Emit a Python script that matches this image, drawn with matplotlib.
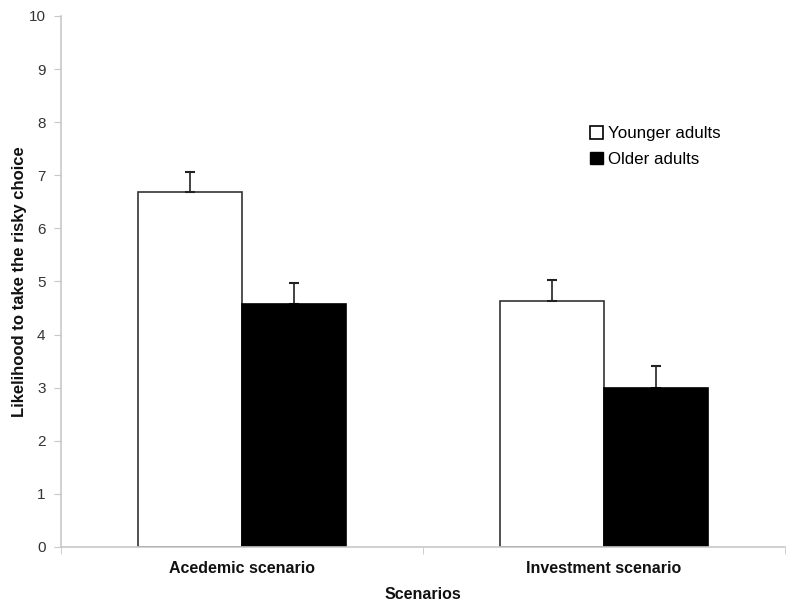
import numpy as np
import matplotlib.pyplot as plt
from matplotlib.patches import Patch

plt.rcParams['font.family'] = ['Liberation Sans', 'DejaVu Sans']

# data
SCENARIOS = ['Acedemic scenario', 'Investment scenario']
YOUNGER = [6.69, 4.64]
OLDER = [4.58, 3.00]
YOUNGER_ERR = [0.38, 0.38]
OLDER_ERR = [0.39, 0.40]

BARWIDTH = 0.288
SPINECOLOR = '#c8c8c8'


def DrawChart():
    fig = plt.figure(figsize=(8, 6.15), dpi=100)
    ax = fig.add_axes([0.076, 0.1106, 0.905, 0.8634])

    centers = np.arange(len(SCENARIOS)) + 0.5

    ax.bar(centers - BARWIDTH / 2, YOUNGER, BARWIDTH, color='white',
           edgecolor='#333333', linewidth=1.2, zorder=2)
    ax.bar(centers + BARWIDTH / 2, OLDER, BARWIDTH, color='black',
           edgecolor='black', linewidth=1.2, zorder=2)

    # upper error bars only
    ax.errorbar(centers - BARWIDTH / 2, YOUNGER, yerr=[np.zeros(2), YOUNGER_ERR],
                fmt='none', ecolor='#222222', elinewidth=1.2, capsize=3.5, capthick=1.5, zorder=3)
    ax.errorbar(centers + BARWIDTH / 2, OLDER, yerr=[np.zeros(2), OLDER_ERR],
                fmt='none', ecolor='#222222', elinewidth=1.2, capsize=3.5, capthick=1.5, zorder=1)

    ax.set_xlim(0, len(SCENARIOS))
    ax.set_ylim(0, 10)
    ax.set_yticks(np.arange(0, 11, 1))

    ax.set_xticks(centers)
    ax.set_xticklabels(SCENARIOS, fontsize=11.5, fontweight='bold', color='#111111')
    ax.set_xticks(np.arange(0, len(SCENARIOS) + 1), minor=True)
    ax.tick_params(axis='x', which='major', length=0, pad=10)
    ax.tick_params(axis='x', which='minor', length=5, color=SPINECOLOR, direction='out')
    ax.tick_params(axis='y', length=5, color=SPINECOLOR, labelsize=11,
                   labelcolor='#333333', pad=6)

    for side in ['top', 'right']:
        ax.spines[side].set_visible(False)
    for side in ['left', 'bottom']:
        ax.spines[side].set_color(SPINECOLOR)
        ax.spines[side].set_linewidth(1.2)

    ax.set_xlabel('Scenarios', fontsize=11.5, fontweight='bold', color='#111111', labelpad=8)
    ax.set_ylabel('Likelihood to take the risky choice', fontsize=12, fontweight='bold',
                  color='#111111', labelpad=1)

    handles = [Patch(facecolor='white', edgecolor='black', linewidth=1.2, label='Younger adults'),
               Patch(facecolor='black', edgecolor='black', label='Older adults')]
    ax.legend(handles=handles, loc='upper left', bbox_to_anchor=(0.722, 0.805), frameon=False,
              fontsize=12.2, handlelength=0.75, handleheight=0.75, handletextpad=0.3,
              labelspacing=0.6, borderaxespad=0)

    fig.savefig('out.png', dpi=100)


DrawChart()
